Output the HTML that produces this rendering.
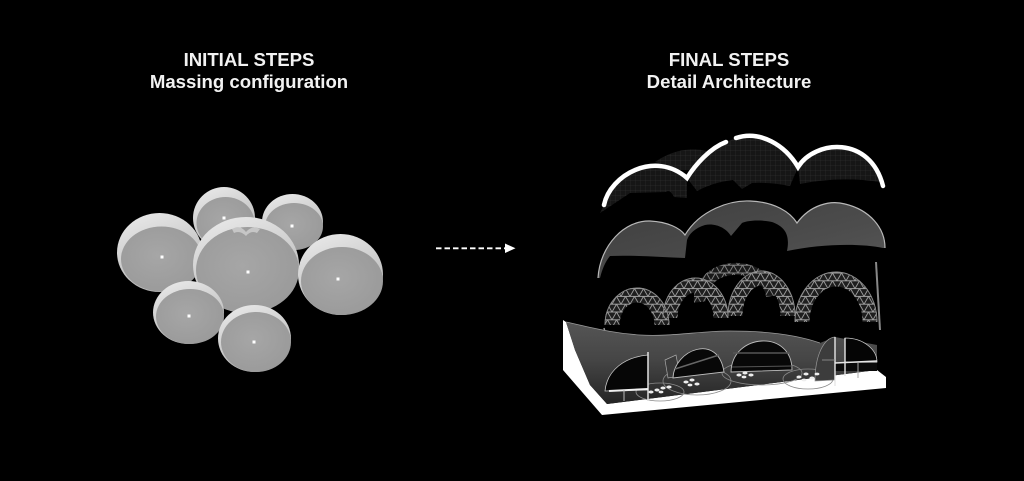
<!DOCTYPE html>
<html><head><meta charset="utf-8"><style>
html,body{margin:0;padding:0;background:#000;}
body{width:1024px;height:481px;position:relative;overflow:hidden;}
.t{position:absolute;width:320px;text-align:center;color:#f2f2f2;font-family:"Liberation Sans",Arial,sans-serif;font-weight:bold;font-size:18.6px;line-height:22px;top:49px;}
svg{position:absolute;left:0;top:0;}
</style></head><body>
<svg width="1024" height="481" viewBox="0 0 1024 481" xmlns="http://www.w3.org/2000/svg">
<defs>
  <linearGradient id="rim" x1="0" y1="0" x2="0.4" y2="1">
    <stop offset="0" stop-color="#ececec"/><stop offset="0.5" stop-color="#d2d2d2"/><stop offset="1" stop-color="#b5b5b5"/>
  </linearGradient>
  <radialGradient id="face" cx="0.45" cy="0.45" r="0.65">
    <stop offset="0" stop-color="#a6a6a6"/><stop offset="1" stop-color="#999999"/>
  </radialGradient>
  <pattern id="grid" width="5" height="5" patternUnits="userSpaceOnUse">
    <rect width="5" height="5" fill="#161616"/>
    <path d="M0,0 L5,0 M0,0 L0,5" stroke="#2c2c2c" stroke-width="0.7"/>
  </pattern>
  <pattern id="tri" width="9" height="7.8" patternUnits="userSpaceOnUse">
    <rect width="9" height="7.8" fill="#1e1e1e"/>
    <path d="M0,7.8 L4.5,0 L9,7.8 M0,0 L9,0 M0,7.8 L9,7.8" stroke="#a0a0a0" stroke-width="0.9" fill="none"/>
  </pattern>
  <linearGradient id="shell" x1="0" y1="0" x2="1" y2="1">
    <stop offset="0" stop-color="#3e3e3e"/><stop offset="0.6" stop-color="#4c4c4c"/><stop offset="1" stop-color="#585858"/>
  </linearGradient>
  <linearGradient id="wall" x1="0" y1="0" x2="0" y2="1">
    <stop offset="0" stop-color="#555555"/><stop offset="0.45" stop-color="#464646"/><stop offset="1" stop-color="#242424"/>
  </linearGradient>
</defs>

<!-- ===== LEFT: bubbles ===== -->
<g>
  <ellipse cx="224" cy="218" rx="31" ry="31" fill="url(#rim)"/>
  <ellipse cx="225.5" cy="223" rx="29" ry="26" fill="url(#face)"/>
  <ellipse cx="292.5" cy="222" rx="30.5" ry="28" fill="url(#rim)"/>
  <ellipse cx="294" cy="226.5" rx="29" ry="23.5" fill="url(#face)"/>
  <ellipse cx="159.5" cy="252.5" rx="42.5" ry="39.5" fill="url(#rim)"/>
  <ellipse cx="161.5" cy="259" rx="40.5" ry="32.5" fill="url(#face)"/>
  <ellipse cx="246" cy="265" rx="53" ry="48" fill="url(#rim)"/>
  <ellipse cx="247.5" cy="270" rx="51.5" ry="43" fill="url(#face)"/>
  <path d="M232,229 Q240,224 246,232 Q252,225 260,229 L257,233 Q251,230 246,236 Q240,230 234,233 Z" fill="#c6c6c6"/>
  <ellipse cx="340.5" cy="274.5" rx="42.5" ry="40.5" fill="url(#rim)"/>
  <ellipse cx="342" cy="281" rx="41" ry="34" fill="url(#face)"/>
  <ellipse cx="188.5" cy="312.5" rx="35.5" ry="31.5" fill="url(#rim)"/>
  <ellipse cx="190" cy="316.5" rx="34" ry="27.5" fill="url(#face)"/>
  <ellipse cx="254.5" cy="338.5" rx="36.5" ry="33.5" fill="url(#rim)"/>
  <ellipse cx="256" cy="342" rx="35" ry="30" fill="url(#face)"/>
  <g fill="#ffffff">
    <rect x="222.5" y="216.5" width="3" height="3"/>
    <rect x="290.5" y="224.5" width="3" height="3"/>
    <rect x="160.5" y="255.5" width="3" height="3"/>
    <rect x="246.5" y="270.5" width="3" height="3"/>
    <rect x="336.5" y="277.5" width="3" height="3"/>
    <rect x="187.5" y="314.5" width="3" height="3"/>
    <rect x="252.5" y="340.5" width="3" height="3"/>
  </g>
</g>

<!-- ===== Arrow ===== -->
<line x1="436" y1="248.3" x2="506" y2="248.3" stroke="#ffffff" stroke-width="1.8" stroke-dasharray="5.5,3"/>
<path d="M505,243.5 L515.5,248.3 L505,253 Z" fill="#ffffff"/>

<!-- ===== RIGHT: layer 1 (roof) ===== -->
<g>
  <path d="M655,162 Q680,145 707,151 L712,170 L680,170 Z" fill="url(#grid)"/>
  <path d="M604,205 C610,175 655,150 687,178 L687,198 L674,197 Q670,189 666,192 L630,193 L600,213 Z" fill="url(#grid)"/>
  <path d="M687,178 C695,165 710,148 726,142 L736,138 C760,130 785,145 798,167 L790,186 Q770,182 752,183 L742,189 L733,180 Q714,182 697,191 Z" fill="url(#grid)"/>
  <path d="M798,167 C815,140 870,135 883,186 L880,182 Q840,176 800,184 Z" fill="url(#grid)"/>
  <path d="M604,205 C610,175 655,150 687,178 C695,165 710,148 726,142" fill="none" stroke="#ffffff" stroke-width="4.5" stroke-linecap="round"/>
  <path d="M736,138 C760,130 785,145 798,167 C815,140 870,135 883,186" fill="none" stroke="#ffffff" stroke-width="4.5" stroke-linecap="round"/>
</g>

<!-- ===== layer 2 (shells) ===== -->
<g>
  <path d="M598,278 C600,245 625,220 650,221 C668,222 680,228 685,235 C700,210 730,200 750,201 C775,202 790,212 797,223 C810,205 830,200 845,204 C870,210 885,228 885,248 L883,248 C860,243 820,244 787,251 C790,236 786,227 772,222 C758,219 746,221 742,223 L731,236 C726,228 716,223 705,225 C695,228 689,234 687,240 L685,258 C660,257 632,255 610,256 C605,262 602,270 600,278 Z" fill="url(#shell)"/>
  <path d="M598,278 C600,245 625,220 650,221 C668,222 680,228 685,235 C700,210 730,200 750,201 C775,202 790,212 797,223 C810,205 830,200 845,204 C870,210 885,228 885,248" fill="none" stroke="#b8b8b8" stroke-width="1.2"/>
</g>

<!-- ===== layer 3 (geodesic) ===== -->
<g fill="none">
  <path d="M700,302 A36,30 0 0 1 772,296" stroke="url(#tri)" stroke-width="12" opacity="0.85"/>
  <path d="M612,325 A25,30 0 0 1 662,325" stroke="url(#tri)" stroke-width="15"/>
  <path d="M670,318 A25.5,33 0 0 1 721,318" stroke="url(#tri)" stroke-width="15"/>
  <path d="M735,316 A26.5,38 0 0 1 788,316" stroke="url(#tri)" stroke-width="15"/>
  <path d="M802,322 A34,43 0 0 1 870,322" stroke="url(#tri)" stroke-width="15"/>
  <path d="M605,325 A32,37 0 0 1 669,325 M663,318 A32.5,40 0 0 1 728,318 M728,316 A33.5,45 0 0 1 795,316 M795,322 A41,50 0 0 1 877,322" stroke="#8a8a8a" stroke-width="0.9"/>
  <path d="M876,262 L880,330" stroke="#888" stroke-width="2"/>
  <path d="M604,328 L608,344" stroke="#999" stroke-width="1.5"/>
</g>

<!-- ===== base ===== -->
<g>
  <path d="M563,320 L563,370 L602,415 L886,388 L886,377 L877,370 L607,404 L590,385 L575,350 L566,322 Z" fill="#ffffff"/>
  <path d="M566,322 C590,327 610,333 640,335 C670,337 700,331 730,331 C770,331 800,336 820,343 L835,337 L877,345 L877,370 L607,404 L590,385 L575,350 Z" fill="url(#wall)"/>
  <path d="M566,322 C590,327 610,333 640,335 C670,337 700,331 730,331 C770,331 800,336 820,343" fill="none" stroke="#9a9a9a" stroke-width="0.8"/>
  <g fill="none" stroke="#8a8a8a" stroke-width="0.8">
    <ellipse cx="697" cy="381" rx="34" ry="14"/>
    <ellipse cx="762" cy="373" rx="40" ry="12"/>
    <ellipse cx="808" cy="379" rx="25" ry="10"/>
    <ellipse cx="660" cy="392" rx="24" ry="9"/>
  </g>
  <path d="M605,391 C607,370 625,357 648,355 L648,390 Z" fill="#060606" stroke="#c8c8c8" stroke-width="0.8"/>
  <line x1="648" y1="352" x2="648" y2="401" stroke="#e0e0e0" stroke-width="1.5"/>
  <line x1="609" y1="391" x2="648" y2="389" stroke="#f0f0f0" stroke-width="2"/>
  <line x1="624" y1="389" x2="624" y2="401" stroke="#bbb" stroke-width="1"/>
  <path d="M665,360 L676,355 L680,376 L668,378 Z" fill="#3a3a3a" stroke="#aaa" stroke-width="0.7"/>
  <path d="M673,378 C674,350 718,332 724,372 Z" fill="#080808" stroke="#bdbdbd" stroke-width="0.9"/>
  <line x1="675" y1="369" x2="719" y2="355" stroke="#666" stroke-width="1.5"/>
  <path d="M731,372 C732,333 792,329 792,370 Z" fill="#080808" stroke="#bdbdbd" stroke-width="0.9"/>
  <line x1="733" y1="353" x2="790" y2="353" stroke="#555" stroke-width="1.5"/>
  <line x1="732" y1="367" x2="792" y2="366" stroke="#555" stroke-width="1"/>
  <path d="M815,381 C815,355 824,338 835,337 L835,380 Z" fill="#3c3c3c" stroke="#999" stroke-width="0.7"/>
  <path d="M845,338 C864,338 877,350 877,362 L845,362 Z" fill="#050505" stroke="#c8c8c8" stroke-width="0.8"/>
  <rect x="835" y="363" width="42" height="8" fill="#0a0a0a"/>
  <line x1="835" y1="337" x2="835" y2="386" stroke="#e6e6e6" stroke-width="1.4"/>
  <line x1="845" y1="338" x2="845" y2="376" stroke="#e6e6e6" stroke-width="1.4"/>
  <line x1="835" y1="363" x2="877" y2="361" stroke="#e6e6e6" stroke-width="1.6"/>
  <line x1="858" y1="363" x2="858" y2="378" stroke="#aaa" stroke-width="1"/>
  <line x1="822" y1="360" x2="835" y2="360" stroke="#999" stroke-width="0.8"/>
  <g fill="#eeeeee">
    <ellipse cx="651" cy="392" rx="2.6" ry="1.5"/><ellipse cx="657" cy="390" rx="2.6" ry="1.5"/><ellipse cx="663" cy="388" rx="2.6" ry="1.5"/><ellipse cx="669" cy="387" rx="2.6" ry="1.5"/><ellipse cx="661" cy="392" rx="2.4" ry="1.4"/>
    <ellipse cx="686" cy="382" rx="2.6" ry="1.5"/><ellipse cx="692" cy="380" rx="2.6" ry="1.5"/><ellipse cx="697" cy="384" rx="2.6" ry="1.5"/><ellipse cx="690" cy="385" rx="2.4" ry="1.4"/>
    <ellipse cx="739" cy="375" rx="2.6" ry="1.5"/><ellipse cx="745" cy="373" rx="2.6" ry="1.5"/><ellipse cx="751" cy="375" rx="2.6" ry="1.5"/><ellipse cx="744" cy="377" rx="2.4" ry="1.4"/>
    <ellipse cx="799" cy="377" rx="2.6" ry="1.5"/><ellipse cx="806" cy="374" rx="2.6" ry="1.5"/><ellipse cx="812" cy="378" rx="2.6" ry="1.5"/><ellipse cx="804" cy="380" rx="2.4" ry="1.4"/><ellipse cx="817" cy="374" rx="2.4" ry="1.4"/>
  </g>
</g>
</svg>

<div class="t" style="left:89px;">INITIAL STEPS<br>Massing configuration</div>
<div class="t" style="left:569px;">FINAL STEPS<br>Detail Architecture</div>
</body></html>
